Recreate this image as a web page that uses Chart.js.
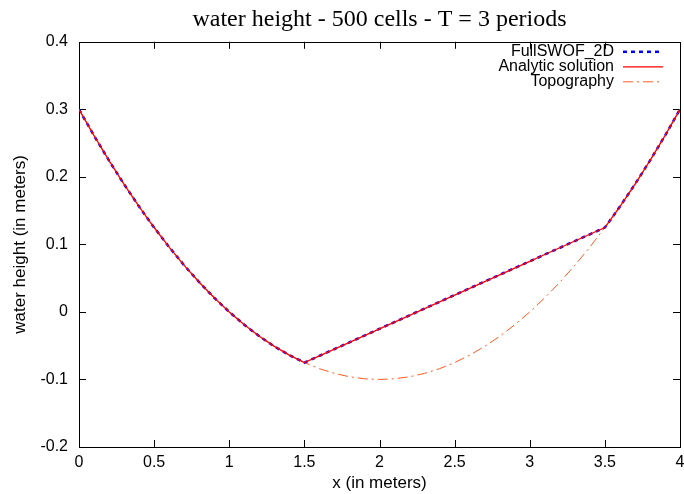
<!DOCTYPE html>
<html>
<head>
<meta charset="utf-8">
<script src="https://cdn.jsdelivr.net/npm/chart.js@4/dist/chart.umd.min.js"></script>
<style>
  html, body { margin: 0; padding: 0; background: #fff; }
  #wrap { width: 684px; height: 494px; }
</style>
</head>
<body>
<div id="wrap"><canvas id="chart" width="684" height="494"></canvas></div>
<script>
////Values
const xValues = [0, 0.1, 0.2, 0.3, 0.4, 0.5, 0.6, 0.7, 0.8, 0.9, 1.0, 1.1, 1.2, 1.3, 1.4, 1.5, 1.6, 1.7, 1.8, 1.9, 2.0,
                 2.1, 2.2, 2.3, 2.4, 2.5, 2.6, 2.7, 2.8, 2.9, 3.0, 3.1, 3.2, 3.3, 3.4, 3.5, 3.6, 3.7, 3.8, 3.9, 4.0];
const topography = [0.3, 0.261, 0.224, 0.189, 0.156, 0.125, 0.096, 0.069, 0.044, 0.021, 0.0, -0.019, -0.036, -0.051, -0.064, -0.075,
                    -0.084, -0.091, -0.096, -0.099, -0.1, -0.099, -0.096, -0.091, -0.084, -0.075, -0.064, -0.051, -0.036, -0.019, 0.0,
                    0.021, 0.044, 0.069, 0.096, 0.125, 0.156, 0.189, 0.224, 0.261, 0.3];
const analytic = [0.3, 0.261, 0.224, 0.189, 0.156, 0.125, 0.096, 0.069, 0.044, 0.021, 0.0, -0.019, -0.036, -0.051, -0.064, -0.075,
                  -0.065, -0.055, -0.045, -0.035, -0.025, -0.015, -0.005, 0.005, 0.015, 0.025, 0.035, 0.045, 0.055, 0.065, 0.075,
                  0.085, 0.095, 0.105, 0.115, 0.125, 0.156, 0.189, 0.224, 0.261, 0.3];
const fullswof = [0.3, 0.261, 0.224, 0.189, 0.156, 0.125, 0.096, 0.069, 0.044, 0.021, 0.0, -0.019, -0.036, -0.051, -0.064, -0.075,
                  -0.065, -0.055, -0.045, -0.035, -0.025, -0.015, -0.005, 0.005, 0.015, 0.025, 0.035, 0.045, 0.055, 0.065, 0.075,
                  0.085, 0.095, 0.105, 0.115, 0.125, 0.156, 0.189, 0.224, 0.261, 0.3];
const seriesNames = ["FullSWOF_2D", "Analytic solution", "Topography"];
const xTicks = [0, 0.5, 1, 1.5, 2, 2.5, 3, 3.5, 4];
const yTicks = [-0.2, -0.1, 0, 0.1, 0.2, 0.3, 0.4];

const SANS = "'Liberation Sans', Arial, Helvetica, sans-serif";
const SERIF = "'Liberation Serif', 'Times New Roman', serif";

//turn the x array and one y array into {x, y} points
function toPoints(ys) {
    return xValues.map((x, i) => ({ x: x, y: ys[i] }));
}

function fmt(v) {
    return String(+v.toFixed(2));
}

////Frame and inward ticks, gnuplot style
const framePlugin = {
    id: 'frame',
    beforeDatasetsDraw(chart) {
        const { ctx, chartArea: a, scales } = chart;
        ctx.save();
        ctx.strokeStyle = '#000';
        ctx.lineWidth = 1;
        ctx.beginPath();
        for (const t of xTicks.slice(1, -1)) {
            const px = Math.round(scales.x.getPixelForValue(t)) + 0.5;
            ctx.moveTo(px, a.bottom); ctx.lineTo(px, a.bottom - 7);
            ctx.moveTo(px, a.top); ctx.lineTo(px, a.top + 7);
        }
        for (const t of yTicks.slice(1, -1)) {
            const py = Math.round(scales.y.getPixelForValue(t)) + 0.5;
            ctx.moveTo(a.left, py); ctx.lineTo(a.left + 7, py);
            ctx.moveTo(a.right, py); ctx.lineTo(a.right - 7, py);
        }
        ctx.stroke();
        ctx.strokeRect(Math.round(a.left) + 0.5, Math.round(a.top) + 0.5,
                       Math.round(a.right - a.left), Math.round(a.bottom - a.top));
        ctx.restore();
    }
};

////Legend at top right: text first, then a line sample
const keyPlugin = {
    id: 'key',
    afterDatasetsDraw(chart) {
        const { ctx, chartArea: a } = chart;
        const textRight = a.right - 66;
        const rows = [a.top + 10, a.top + 25, a.top + 40];
        ctx.save();
        ctx.font = "16px " + SANS;
        ctx.textAlign = 'right';
        ctx.textBaseline = 'middle';
        chart.data.datasets.forEach((ds, i) => {
            ctx.fillStyle = '#000';
            ctx.fillText(ds.label, textRight, rows[i]);
            ctx.strokeStyle = ds.borderColor;
            ctx.lineWidth = ds.borderWidth;
            ctx.setLineDash(ds.borderDash || []);
            ctx.beginPath();
            ctx.moveTo(textRight + 9, rows[i]);
            ctx.lineTo(textRight + 49, rows[i]);
            ctx.stroke();
        });
        ctx.restore();
    }
};

const ctx = document.getElementById("chart").getContext('2d');
const heightChart = new Chart(ctx, {
    type: 'line',
    data: {
        datasets: [{
            label: seriesNames[0],
            data: toPoints(fullswof),
            borderColor: '#0000ff',
            borderWidth: 2.5,
            borderDash: [4, 4],
            order: 1
        }, {
            label: seriesNames[1],
            data: toPoints(analytic),
            borderColor: '#ff0000',
            borderWidth: 1.3,
            order: 0
        }, {
            label: seriesNames[2],
            data: toPoints(topography),
            borderColor: '#ff5a1e',
            borderWidth: 1,
            borderDash: [10, 4, 2, 4],
            order: 2
        }]
    },
    options: {
        responsive: false,
        animation: false,
        elements: { point: { radius: 0 }, line: { tension: 0 } },
        layout: { padding: { left: 0, right: 4, top: 0, bottom: 0 } },
        plugins: {
            legend: { display: false },
            tooltip: { enabled: false },
            title: {
                display: true,
                text: 'water height - 500 cells - T = 3 periods',
                fullSize: false,
                color: '#000',
                font: { family: SERIF, size: 24, weight: 'normal', lineHeight: 1.2 },
                padding: { top: 5, bottom: 8 }
            }
        },
        scales: {
            x: {
                type: 'linear',
                min: 0,
                max: 4,
                afterBuildTicks: s => { s.ticks = xTicks.map(v => ({ value: v })); },
                afterFit: s => { s.height = 47; s.paddingLeft = 0; s.paddingRight = 0; },
                grid: { display: false, tickLength: 6 },
                border: { display: false },
                ticks: { color: '#000', font: { family: SANS, size: 16 }, padding: 0, maxRotation: 0, callback: fmt },
                title: { display: true, text: 'x (in meters)', color: '#000',
                         font: { family: SANS, size: 17 }, padding: { top: 2, bottom: 0 } }
            },
            y: {
                type: 'linear',
                min: -0.2,
                max: 0.4,
                afterBuildTicks: s => { s.ticks = yTicks.map(v => ({ value: v })); },
                afterFit: s => { s.width = 79; s.paddingTop = 0; s.paddingBottom = 0; },
                grid: { display: false, tickLength: 6 },
                border: { display: false },
                ticks: { color: '#000', font: { family: SANS, size: 16 }, padding: 5, callback: fmt },
                title: { display: true, text: 'water height (in meters)', color: '#000',
                         font: { family: SANS, size: 17 }, padding: { top: 10, bottom: 0 } }
            }
        }
    },
    plugins: [framePlugin, keyPlugin]
});
</script>
</body>
</html>
